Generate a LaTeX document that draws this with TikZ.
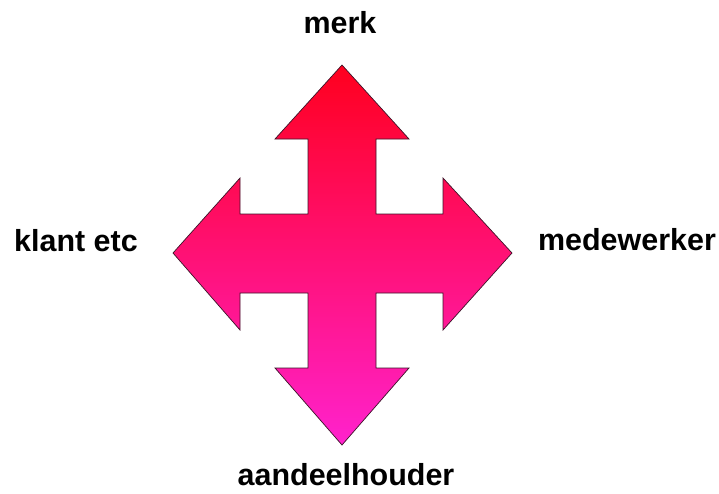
\documentclass[tikz,border=0pt]{standalone}
\usepackage{fontspec}
\setmainfont{Liberation Sans}
\usetikzlibrary{positioning}
\definecolor{crossred}{RGB}{255,0,30}
\definecolor{crossmag}{RGB}{255,34,205}
\definecolor{crossline}{RGB}{60,20,40}

\begin{document}
\begin{tikzpicture}[x=0.03cm, y=-0.03cm,
  lbl/.style={font=\fontsize{26}{31}\selectfont\bfseries, inner sep=0pt, anchor=base},
  cross/.style={draw=crossline, line width=0.6pt, top color=crossred, bottom color=crossmag}
]
\useasboundingbox (0,0) rectangle (719,493);
% four-way arrow
\path[cross] (342,65) -- (409,139) -- (376,139) -- (376,214) -- (443,214) -- (443,178)
  -- (512,253) -- (443,330) -- (443,293) -- (376,293) -- (376,368) -- (409,368)
  -- (342,445) -- (275,368) -- (308,368) -- (308,293) -- (240,293) -- (240,330)
  -- (173,253) -- (240,178) -- (240,214) -- (308,214) -- (308,139) -- (275,139) -- cycle;
% labels
\node[lbl] (merk) at (340,33) {merk};
\node[lbl] (klant) at (76,251.5) {klant etc};
\node[lbl] (medew) at (627,250) {medewerker};
\node[lbl] (aandeel) at (346,485) {aandeelhouder};
\end{tikzpicture}
\end{document}
